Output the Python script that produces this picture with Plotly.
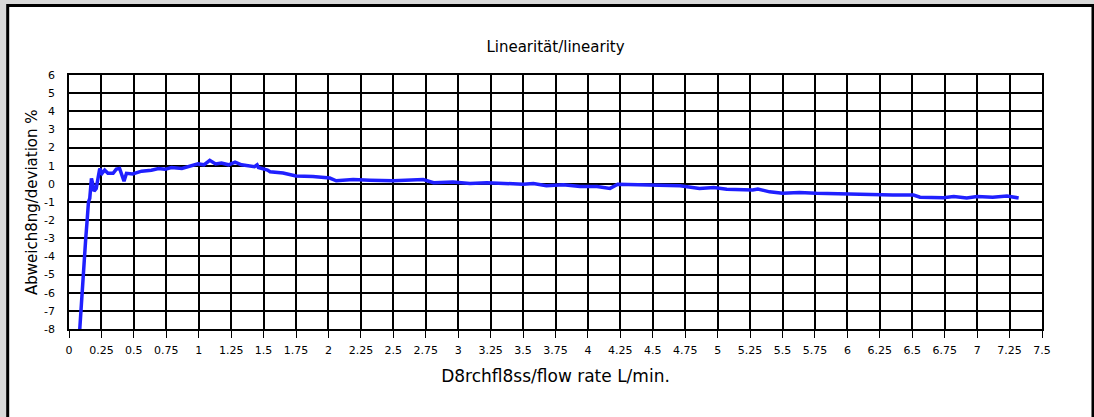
import plotly.graph_objects as go

# Flow rate (L/min) and deviation (%)
flow_rate = [0.083, 0.108, 0.129, 0.14, 0.15, 0.16, 0.173, 0.183, 0.193, 0.21, 0.225, 0.237,
             0.255, 0.275, 0.30, 0.34, 0.365, 0.39, 0.424, 0.443, 0.49, 0.56, 0.635, 0.69,
             0.74, 0.79, 0.87, 0.93, 0.995, 1.04, 1.085, 1.13, 1.175, 1.23, 1.28, 1.33, 1.38,
             1.43, 1.45, 1.46, 1.53, 1.55, 1.65, 1.75, 1.88, 2.01, 2.06, 2.19, 2.32, 2.50,
             2.73, 2.81, 2.96, 3.09, 3.22, 3.35, 3.50, 3.58, 3.68, 3.81, 3.94, 4.07, 4.17,
             4.23, 4.37, 4.50, 4.61, 4.71, 4.86, 4.97, 5.07, 5.27, 5.31, 5.40, 5.50, 5.63,
             5.76, 5.94, 6.10, 6.35, 6.51, 6.56, 6.74, 6.82, 6.92, 7.0, 7.12, 7.23, 7.32]
deviation = [-8.0, -5.0, -3.0, -2.0, -1.0, -0.8, 0.3, 0.0, -0.4, -0.25, 0.3, 0.85,
             0.58, 0.76, 0.58, 0.58, 0.81, 0.85, 0.15, 0.58, 0.55, 0.7, 0.75, 0.85,
             0.8, 0.9, 0.85, 0.95, 1.1, 1.05, 1.3, 1.1, 1.15, 1.05, 1.2, 1.05, 1.0,
             0.95, 1.05, 0.9, 0.76, 0.67, 0.6, 0.43, 0.4, 0.32, 0.17, 0.24, 0.2, 0.17,
             0.24, 0.06, 0.1, 0.02, 0.06, 0.02, -0.02, 0.02, -0.1, -0.05, -0.15, -0.15, -0.25,
             -0.02, -0.05, -0.05, -0.1, -0.1, -0.25, -0.2, -0.3, -0.34, -0.28, -0.44, -0.52, -0.47,
             -0.52, -0.56, -0.58, -0.62, -0.62, -0.74, -0.76, -0.7, -0.78, -0.7, -0.74, -0.67, -0.78]

x_ticks = [i * 0.25 for i in range(31)]
y_ticks = list(range(-8, 7))

title_text = "Linearität/linearity"
x_title = "D8rchfl8ss/flow rate L/min."
y_title = "Abweich8ng/deviation %"

FONT = "'DejaVu Sans', sans-serif"

fig = go.Figure()
fig.add_trace(go.Scatter(
    x=flow_rate, y=deviation, mode="lines",
    line=dict(color="#2020ff", width=3.5),
    showlegend=False, hoverinfo="x+y",
))

fig.update_layout(
    width=1094, height=417,
    margin=dict(l=69, r=52, t=75, b=88),
    paper_bgcolor="#d9d9d9",
    plot_bgcolor="white",
    font=dict(family=FONT, color="black", size=11),
    title=dict(text=title_text, x=0.5, xanchor="center", xref="paper",
               y=1 - 47 / 417, yanchor="middle", font=dict(size=15, family=FONT)),
    shapes=[dict(type="rect", xref="paper", yref="paper", layer="below",
                 x0=-0.063, x1=1.0524, y0=-0.6, y1=1.274,
                 fillcolor="white", line=dict(color="black", width=3))],
    annotations=[dict(text=y_title, textangle=-90, showarrow=False,
                      xref="paper", yref="paper", x=(32 - 69) / 973, y=0.5,
                      xanchor="center", yanchor="middle",
                      font=dict(size=15, family=FONT))],
)

fig.update_xaxes(
    range=[0, 7.5], tickvals=x_ticks, ticktext=[f"{v:g}" for v in x_ticks],
    showgrid=True, gridcolor="black", gridwidth=1.5,
    showline=True, linecolor="black", linewidth=1.5, mirror=True,
    ticks="outside", ticklen=7, tickcolor="black", tickwidth=1,
    ticklabelstandoff=3,
    tickfont=dict(size=11), zeroline=False,
    title=dict(text=x_title, font=dict(size=17), standoff=14),
)
fig.update_yaxes(
    range=[-8, 6], tickvals=y_ticks, ticktext=[str(v) for v in y_ticks],
    showgrid=True, gridcolor="black", gridwidth=1.5,
    showline=True, linecolor="black", linewidth=1.5, mirror=True,
    ticks="", ticklabelstandoff=10,
    tickfont=dict(size=11), zeroline=False,
)

fig.write_html(
    "out.html",
    config={"displayModeBar": False},
    post_script="document.body.style.margin='0';document.body.style.background='#d9d9d9';",
)
